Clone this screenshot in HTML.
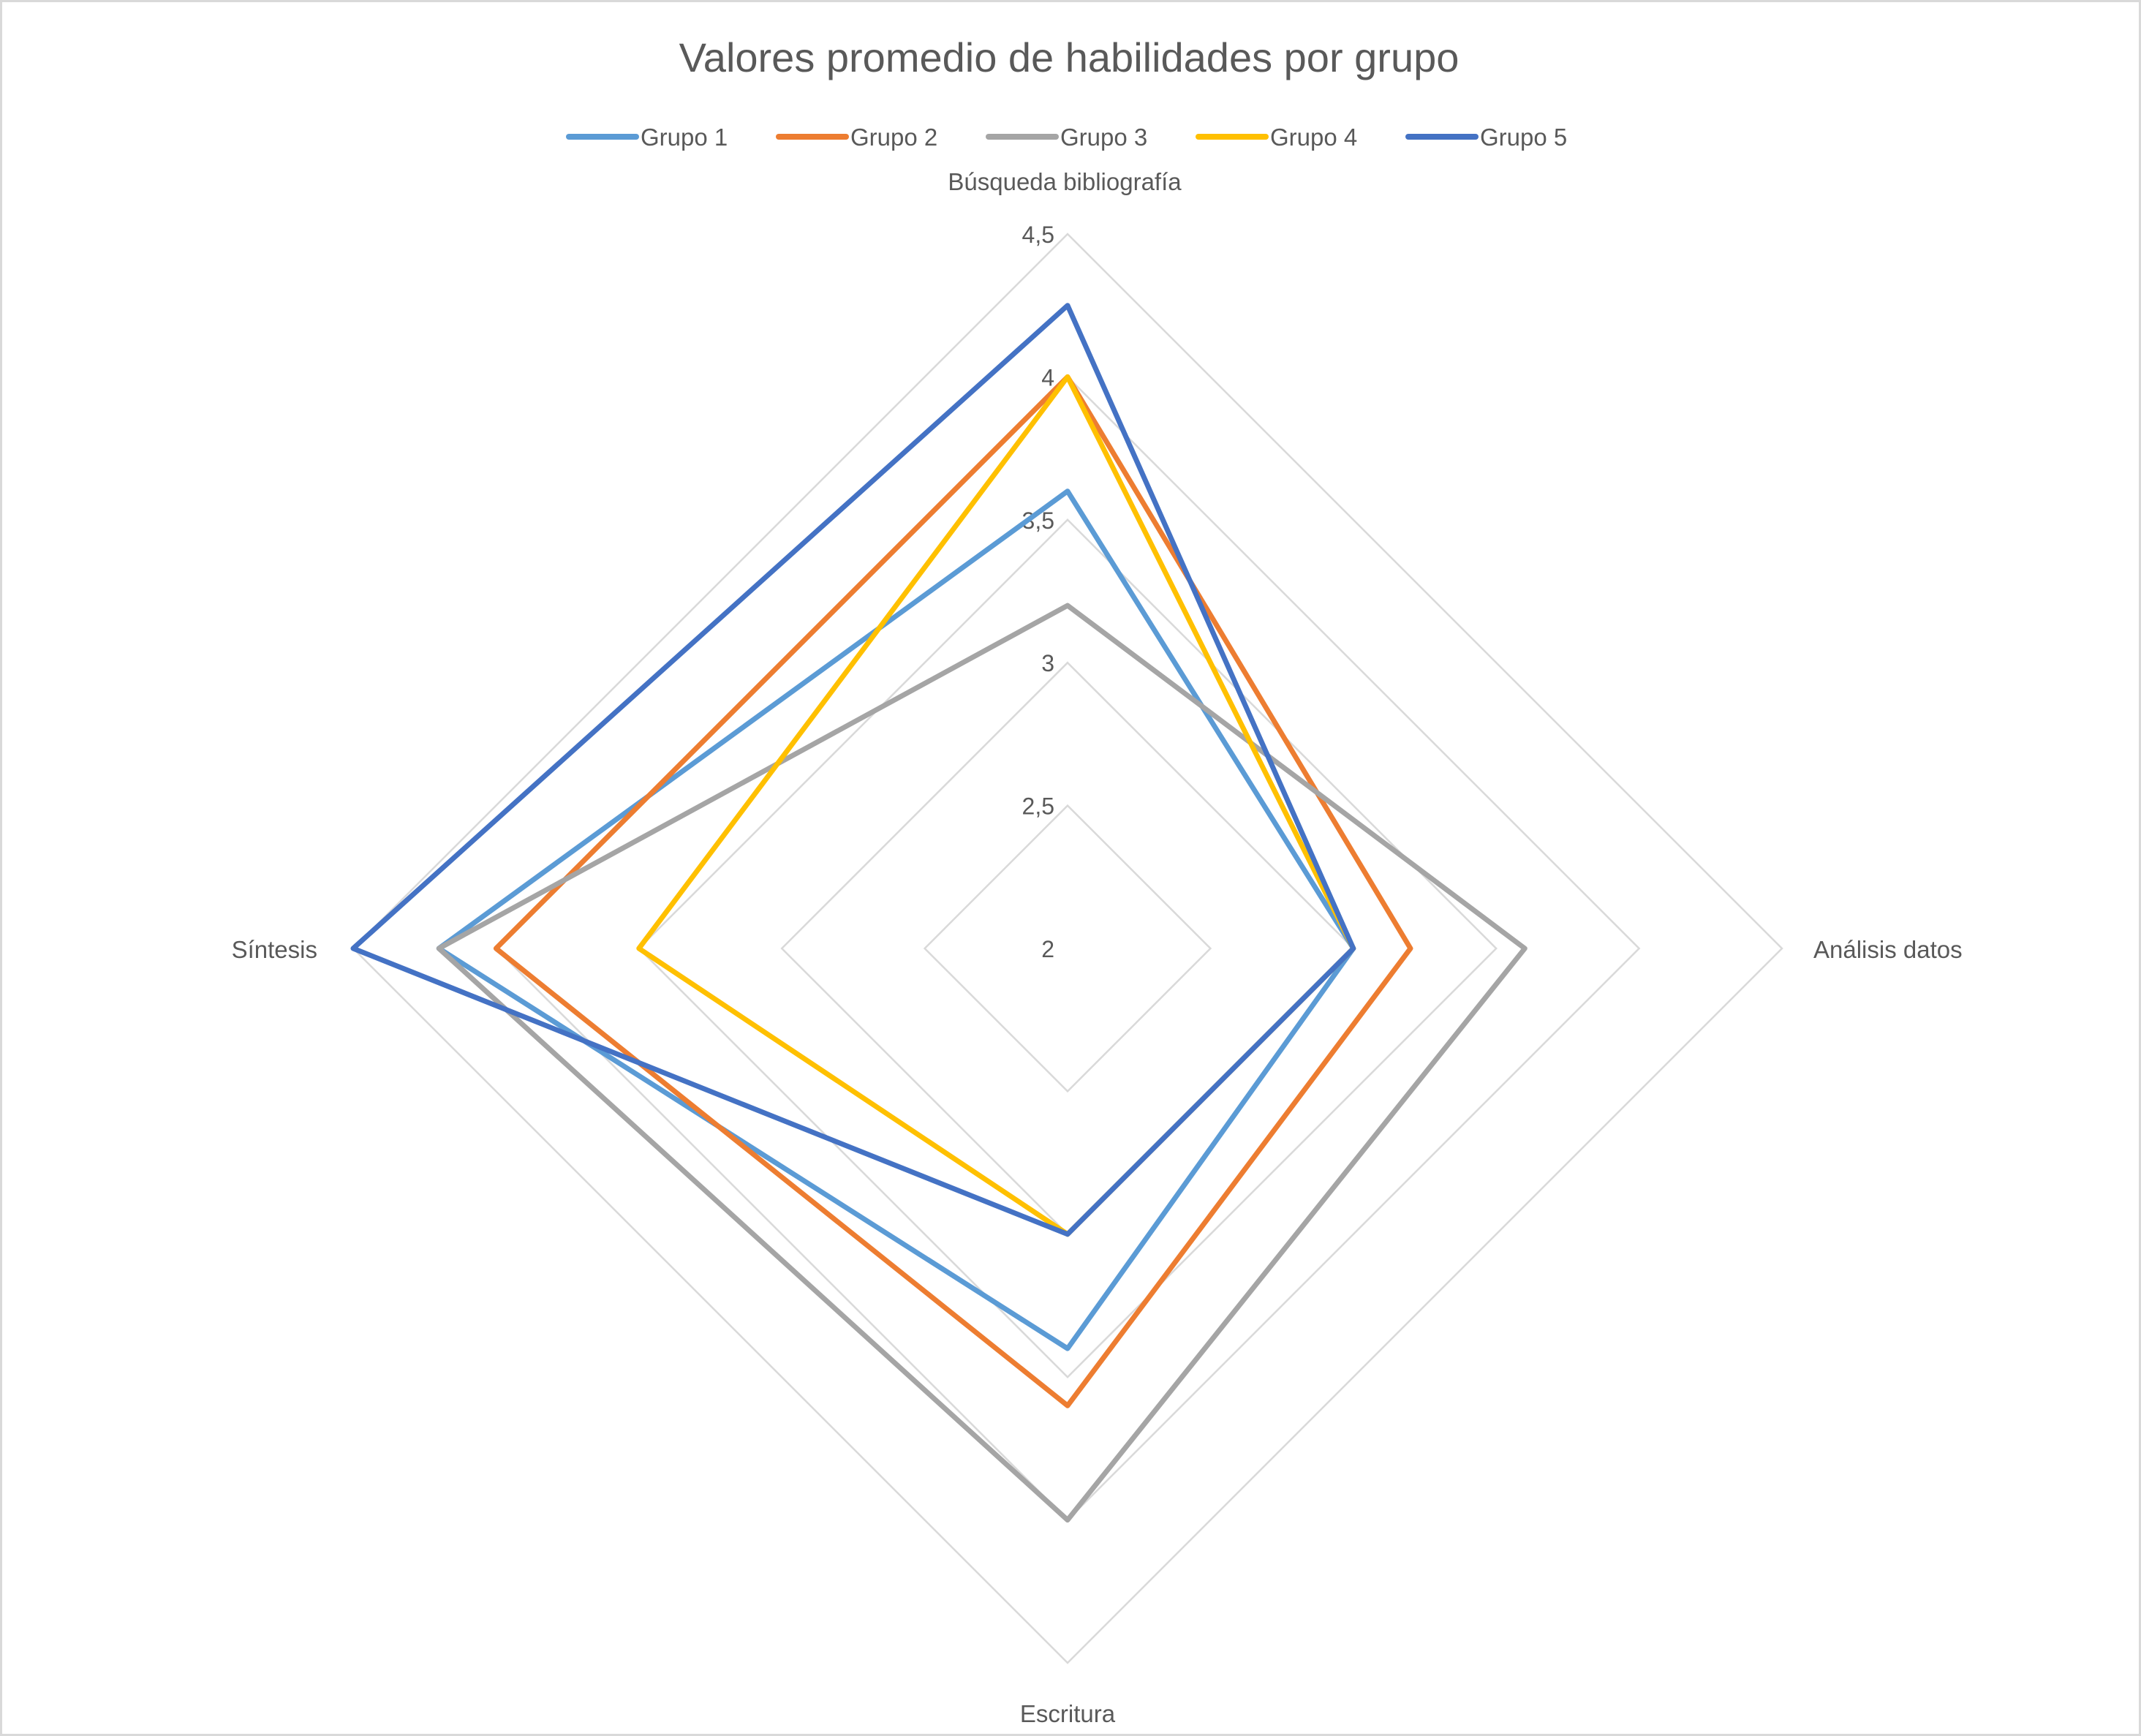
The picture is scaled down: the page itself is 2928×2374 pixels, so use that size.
<!DOCTYPE html>
<html><head><meta charset="utf-8"><style>
html,body{margin:0;padding:0;background:#fff}
svg{display:block}
text{font-family:"Liberation Sans",sans-serif;fill:#595959}
</style></head><body>
<svg id="chart" width="2928" height="2374" viewBox="0 0 2928 2374">
<rect x="1.5" y="1.5" width="2925" height="2371" fill="#fff" stroke="#d9d9d9" stroke-width="3"/>
<text x="1462" y="98" font-size="56" text-anchor="middle">Valores promedio de habilidades por grupo</text>
<g id="legend"></g>
<g id="grid"></g>
<g id="series"></g>
<g id="labels"></g>
</svg>
<script>
const categories = ["Búsqueda bibliografía","Análisis datos","Escritura","Síntesis"];
const seriesNames = ["Grupo 1","Grupo 2","Grupo 3","Grupo 4","Grupo 5"];
const grupo1 = [3.6,3.0,3.4,4.2];
const grupo2 = [4.0,3.2,3.6,4.0];
const grupo3 = [3.2,3.6,4.0,4.2];
const grupo4 = [4.0,3.0,3.0,3.5];
const grupo5 = [4.25,3.0,3.0,4.5];
const tickValues = [2,2.5,3,3.5,4,4.5];
const tickLabels = ["2","2,5","3","3,5","4","4,5"];
const allSeries=[grupo1,grupo2,grupo3,grupo4,grupo5];
const colors=["#5b9bd5","#ed7d31","#a5a5a5","#ffc000","#4472c4"];
const NS="http://www.w3.org/2000/svg";
const cx=1460, cy=1297, R=977, vmin=2, vmax=4.5;
function r(v){return (v-vmin)/(vmax-vmin)*R;}
function pt(i,v){const a=-Math.PI/2+i*2*Math.PI/categories.length;return [cx+r(v)*Math.cos(a),cy+r(v)*Math.sin(a)];}
function mk(tag,attrs,parent){const e=document.createElementNS(NS,tag);for(const k in attrs)e.setAttribute(k,attrs[k]);parent.appendChild(e);return e;}
const grid=document.getElementById('grid');
tickValues.forEach((t,ti)=>{
  const p=categories.map((c,i)=>pt(i,t).join(',')).join(' ');
  const g=mk('polygon',{points:p,fill:'none',stroke:'#d9d9d9','stroke-width':2.5},grid);
  
  
  const [x,y]=pt(0,t);
  const tl=mk('text',{x:x-18,y:y+12,'font-size':32,'text-anchor':'end'},grid);
  tl.textContent=tickLabels[ti];
  
  
});
const sg=document.getElementById('series');
allSeries.forEach((s,si)=>{
  const p=s.map((v,i)=>pt(i,v).join(',')).join(' ');
  const pl=mk('polygon',{points:p,fill:'none',stroke:colors[si],'stroke-width':7,'stroke-linejoin':'round'},sg);
  
  
});
const lab=document.getElementById('labels');
const lp=[[1456,260,'middle'],[2480,1310,'start'],[1460,2355,'middle'],[434,1310,'end']];
categories.forEach((c,i)=>{
  const t=mk('text',{x:lp[i][0],y:lp[i][1],'font-size':33,'text-anchor':lp[i][2]},lab);
  t.textContent=c;
  
  
});
const lg=document.getElementById('legend');
seriesNames.forEach((n,i)=>{
  const x0=778+i*287;
  const l=mk('line',{x1:x0,y1:187,x2:x0+92,y2:187,stroke:colors[i],'stroke-width':8,'stroke-linecap':'round'},lg);
  
  
  const t=mk('text',{x:x0+98,y:199,'font-size':33},lg);
  t.textContent=n;
  
  
});
</script>
</body></html>
